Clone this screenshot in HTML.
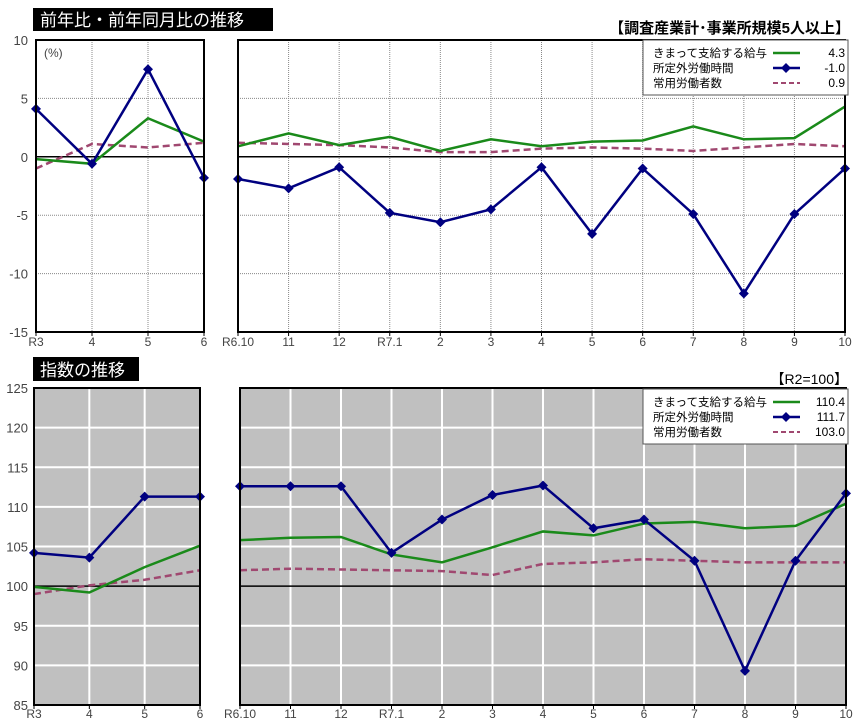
<!DOCTYPE html>
<html><head><meta charset="utf-8">
<style>
body{margin:0;background:#fff;}
svg{display:block;font-family:"Liberation Sans","Noto Sans CJK JP",sans-serif;}
</style></head><body>
<svg id="s" width="858" height="727" xmlns="http://www.w3.org/2000/svg"></svg>
<script>
const s=document.getElementById('s');let h='';
function line(pts,col,w,dash){h+=`<polyline points="${pts.map(p=>p.join(',')).join(' ')}" fill="none" stroke="${col}" stroke-width="${w}" ${dash?'stroke-dasharray="'+dash+'"':''}/>`;}
function dia(x,y){h+=`<polygon points="${x},${y-5} ${x+5},${y} ${x},${y+5} ${x-5},${y}" fill="#000080"/>`;}
function txt(x,y,t,size,anchor,col,extra){h+=`<text x="${x}" y="${y}" font-size="${size}" text-anchor="${anchor||'start'}" fill="${col||'#333'}" ${extra||''}>${t}</text>`;}
function panel(x0,x1,yt,yb,vmax,vmin,step,cats,labels,bg,series,zero,showY,labY){
  const yv=v=>yt+(vmax-v)*(yb-yt)/(vmax-vmin);
  const n=cats;const xs=[];for(let i=0;i<n;i++)xs.push(x0+(x1-x0)*i/(n-1));
  if(bg)h+=`<rect x="${x0}" y="${yt}" width="${x1-x0}" height="${yb-yt}" fill="#c0c0c0"/>`;
  const gc=bg?'#fff':'#888',gw=bg?2:1,gd=bg?'':'stroke-dasharray="1,1"';
  for(let v=vmin+step;v<vmax;v+=step){if(v===zero)continue;h+=`<line x1="${x0}" x2="${x1}" y1="${yv(v)}" y2="${yv(v)}" stroke="${gc}" stroke-width="${gw}" ${gd}/>`;}
  for(let i=1;i<n-1;i++)h+=`<line x1="${xs[i]}" x2="${xs[i]}" y1="${yt}" y2="${yb}" stroke="${gc}" stroke-width="${gw}" ${gd}/>`;
  h+=`<line x1="${x0}" x2="${x1}" y1="${yv(zero)}" y2="${yv(zero)}" stroke="#000" stroke-width="1.5"/>`;
  for(let i=0;i<n;i++){h+=`<line x1="${xs[i]}" x2="${xs[i]}" y1="${yb}" y2="${yb+4}" stroke="#000"/>`;txt(xs[i],labY,labels[i],12,'middle','#444');}
  if(showY)for(let v=vmin;v<=vmax;v+=step)txt(28,yv(v)+5,v,13,'end','#444');
  series.forEach(([d,col,w,dash,mk])=>{const p=d.map((v,i)=>[xs[i],yv(v)]);line(p,col,w,dash);if(mk)p.forEach(q=>dia(q[0],q[1]));});
  h+=`<rect x="${x0}" y="${yt}" width="${x1-x0}" height="${yb-yt}" fill="none" stroke="#000" stroke-width="2"/>`;
}
const G='#1a8a1a',B='#000080',P='#a04870';
panel(36,204,40,332,10,-15,5,4,['R3','4','5','6'],false,[
 [[-1.0,1.1,0.8,1.2],P,2.5,'7,4'],[[-0.2,-0.6,3.3,1.3],G,2.5],[[4.1,-0.6,7.5,-1.8],B,2.5,'',1]],0,true,346);
panel(238,845,40,332,10,-15,5,13,['R6.10','11','12','R7.1','2','3','4','5','6','7','8','9','10'],false,[
 [[1.2,1.1,1.0,0.8,0.4,0.4,0.7,0.8,0.7,0.5,0.8,1.1,0.9],P,2.5,'7,4'],
 [[0.9,2.0,1.0,1.7,0.5,1.5,0.9,1.3,1.4,2.6,1.5,1.6,4.3],G,2.5],
 [[-1.9,-2.7,-0.9,-4.8,-5.6,-4.5,-0.9,-6.6,-1.0,-4.9,-11.7,-4.9,-1.0],B,2.5,'',1]],0,false,346);
txt(44,57,'(%)',12,'start','#444');
panel(34,200,388,705,125,85,5,4,['R3','4','5','6'],true,[
 [[99.0,100.1,100.8,102.0],P,2.5,'7,4'],[[99.9,99.2,102.4,105.1],G,2.5],[[104.2,103.6,111.3,111.3],B,2.5,'',1]],100,true,718);
panel(240,846,388,705,125,85,5,13,['R6.10','11','12','R7.1','2','3','4','5','6','7','8','9','10'],true,[
 [[102.0,102.2,102.1,102.0,101.9,101.4,102.8,103.0,103.4,103.2,103.0,103.0,103.0],P,2.5,'7,4'],
 [[105.8,106.1,106.2,104.0,103.0,104.9,106.9,106.4,107.9,108.1,107.3,107.6,110.4],G,2.5],
 [[112.6,112.6,112.6,104.2,108.4,111.5,112.7,107.3,108.4,103.2,89.3,103.2,111.7],B,2.5,'',1]],100,false,718);
h+=`<rect x="33" y="8" width="240" height="23" fill="#000"/>`;txt(40,26,'前年比・前年同月比の推移',17,'start','#fff');
h+=`<rect x="33" y="357" width="106" height="24" fill="#000"/>`;txt(40,376,'指数の推移',17,'start','#fff');
txt(850,33,'【調査産業計･事業所規模5人以上】',15,'end','#000','font-weight="bold"');
txt(848,384,'【R2=100】',14,'end','#000');
function legend(y0,vals){
 h+=`<rect x="643" y="${y0}" width="205" height="55" fill="#fff" stroke="#555"/>`;
 const names=['きまって支給する給与','所定外労働時間','常用労働者数'];
 for(let i=0;i<3;i++){const y=y0+13+i*15;txt(653,y+4,names[i],11.5,'start','#000');txt(845,y+4,vals[i],12,'end','#000');}
 line([[773,y0+13],[800,y0+13]],G,2.5);line([[773,y0+28],[800,y0+28]],B,2.5);dia(786,y0+28);line([[773,y0+43],[800,y0+43]],P,2,'5,3');
}
legend(40,['4.3','-1.0','0.9']);
legend(389,['110.4','111.7','103.0']);
s.innerHTML=h;
</script>
</body></html>
